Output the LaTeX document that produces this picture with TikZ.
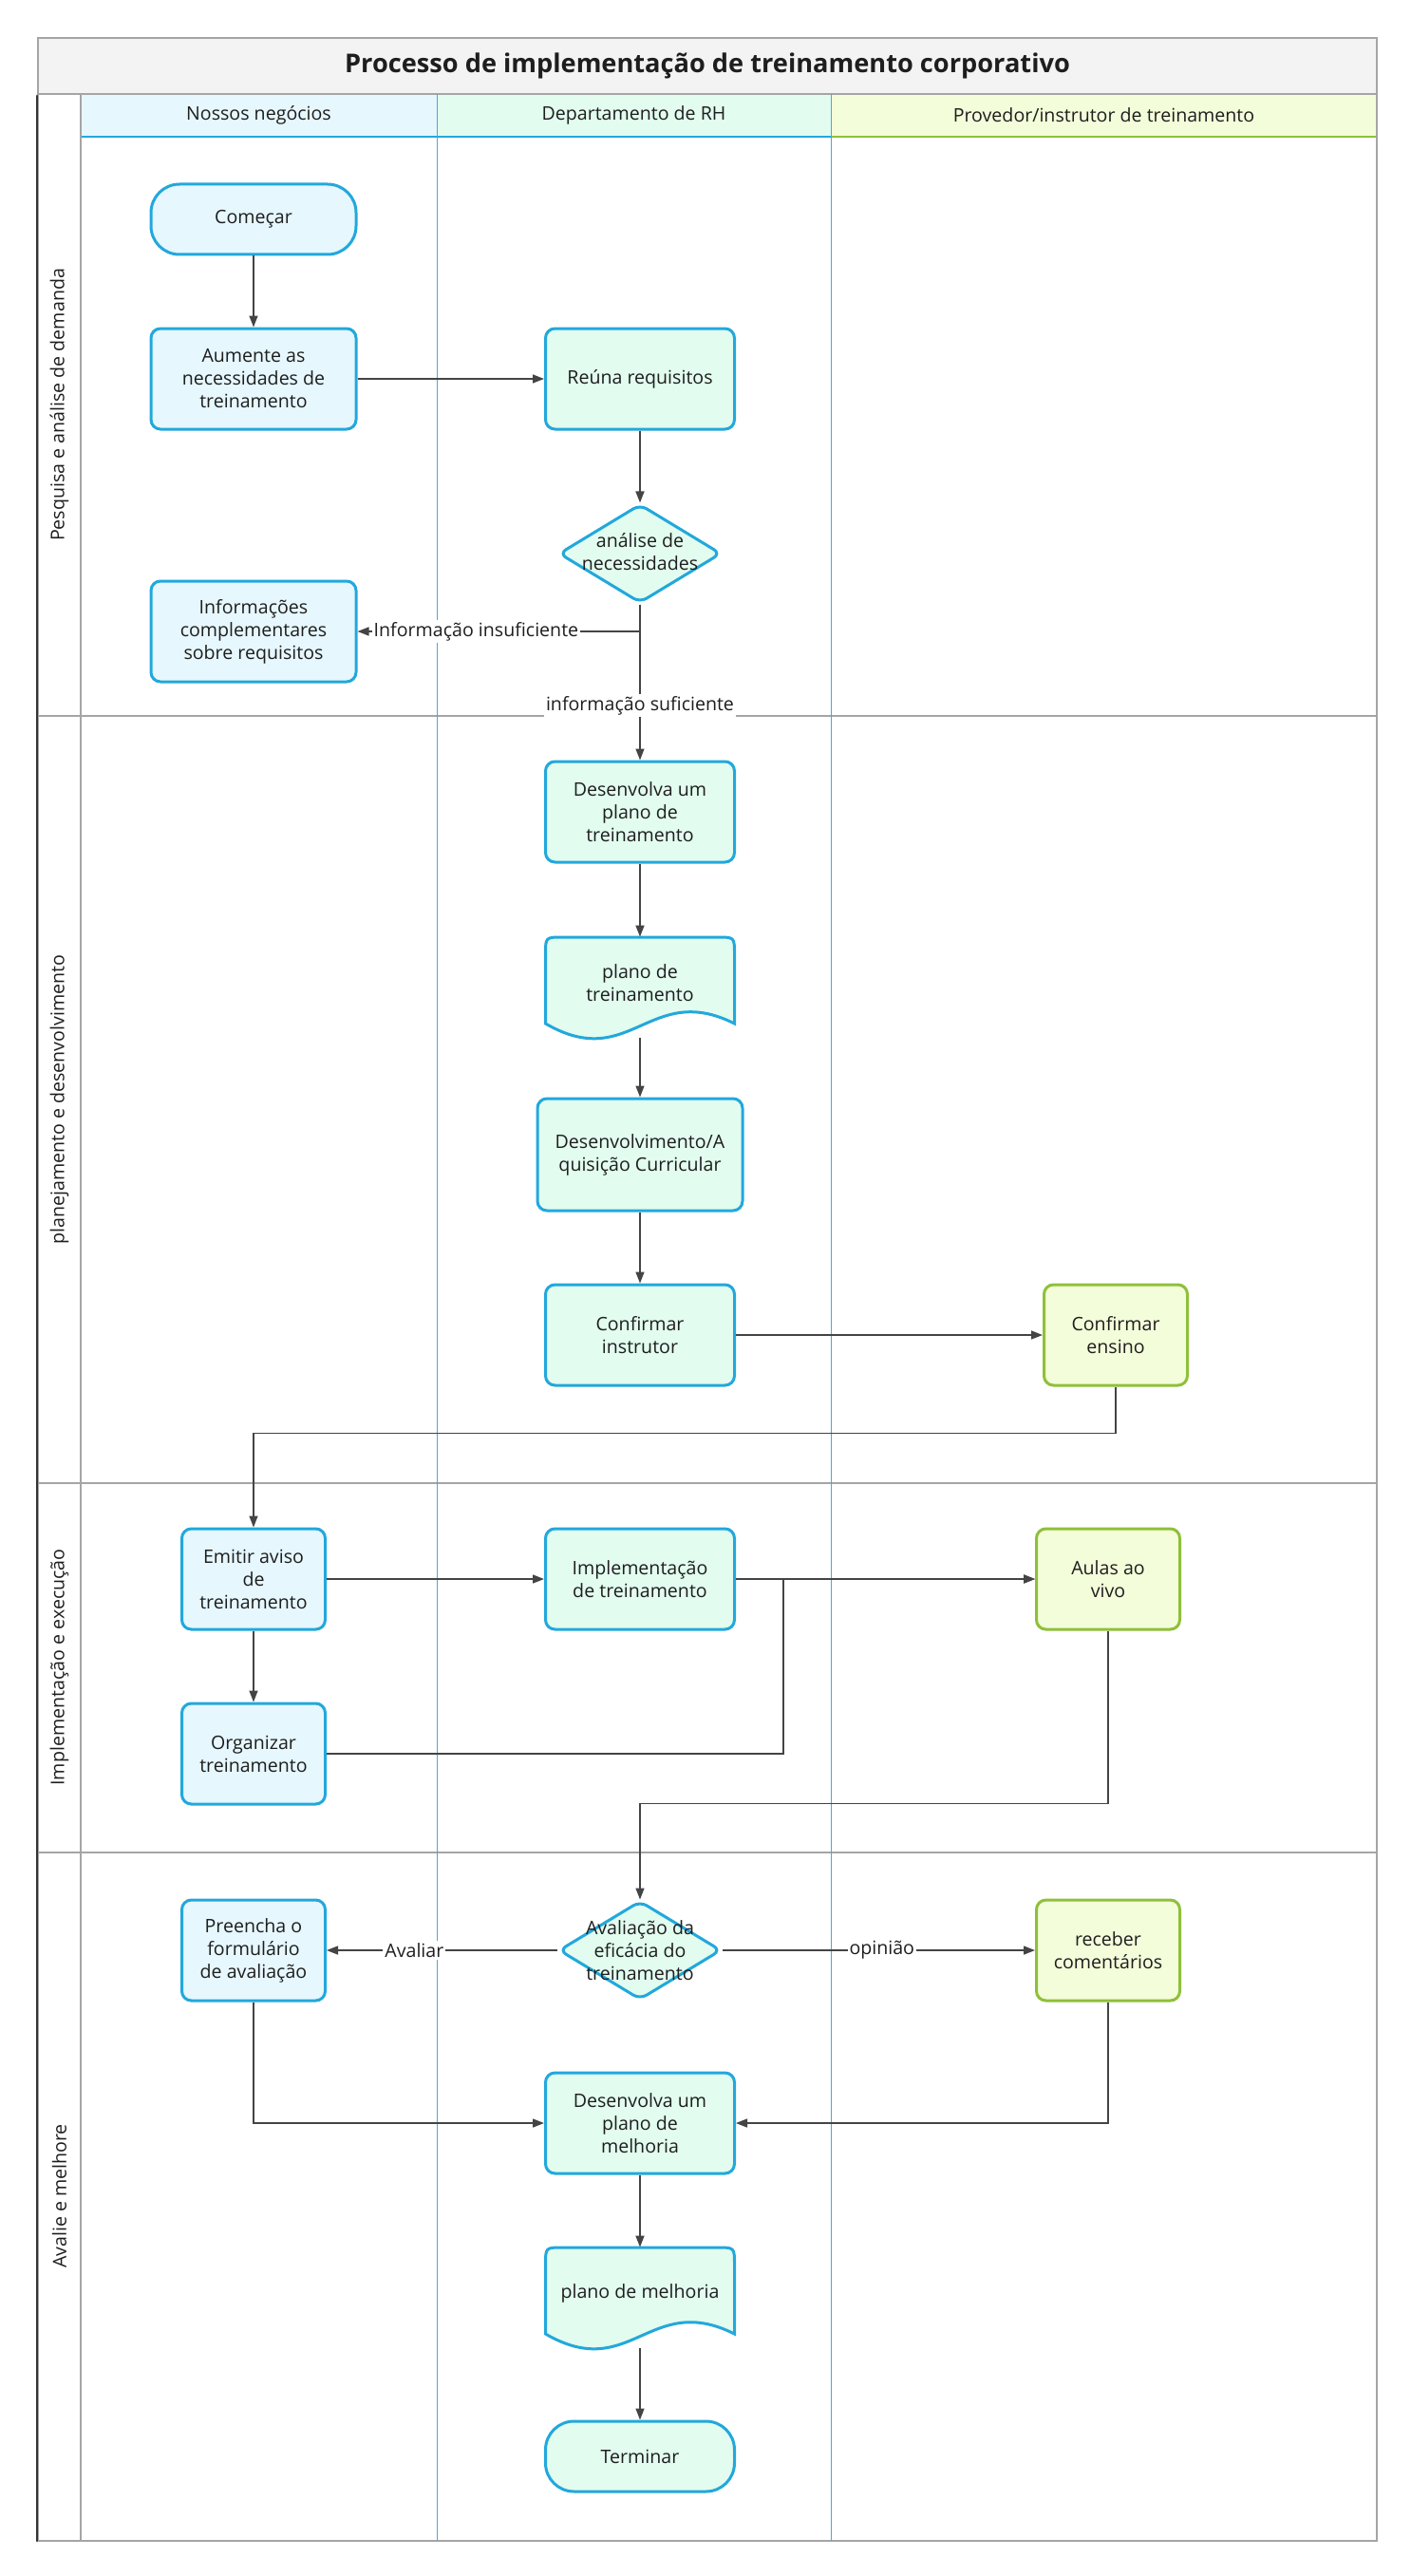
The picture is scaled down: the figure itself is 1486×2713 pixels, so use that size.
\documentclass[tikz,border=0pt]{standalone}
\usepackage{fontspec}
\setmainfont{Open Sans}
\usetikzlibrary{shapes.geometric,arrows.meta,calc}
\definecolor{bstroke}{RGB}{34,168,220}
\definecolor{gstroke}{RGB}{143,192,58}
\definecolor{bfill}{RGB}{230,247,253}
\definecolor{mfill}{RGB}{226,252,239}
\definecolor{gfill}{RGB}{243,253,218}
\definecolor{tfill}{RGB}{243,243,243}
\definecolor{gridc}{RGB}{165,165,165}
\definecolor{lanec}{RGB}{70,172,212}
\definecolor{arrc}{RGB}{68,68,68}
\definecolor{txt}{RGB}{30,30,30}
\definecolor{darkbar}{RGB}{50,52,56}
\newcommand{\docpath}[3]{%
  \draw[line width=1.5pt, draw=bstroke, fill=#3]
    ({#1-99.5},{#2+91}) -- ({#1-99.5},{#2+18}) .. controls ({#1-99.5},{#2}) .. ({#1-81.5},{#2})
    -- ({#1+81.5},{#2}) .. controls ({#1+99.5},{#2}) .. ({#1+99.5},{#2+18})
    -- ({#1+99.5},{#2+91}) .. controls ({#1+10},{#2+91-45}) and ({#1-10},{#2+91+52}) .. ({#1-99.5},{#2+91}) -- cycle;}
\begin{document}
\begin{tikzpicture}[x=0.5pt,y=-0.5pt,
  every node/.style={text=txt},
  nfont/.style={font=\fontsize{9.8}{12}\selectfont},
  box/.style={nfont, draw=bstroke, line width=1.5pt, rounded corners=5pt, align=center, inner sep=2pt, minimum height=53pt},
  wbox/.style={box, minimum width=108pt},
  hbox/.style={box, minimum width=99.5pt},
  nbox/.style={box, minimum width=75.5pt},
  term/.style={box, rounded corners=15pt, minimum height=37pt},
  dia/.style={diamond, draw=bstroke, fill=mfill, line width=1.5pt, rounded corners=4pt, minimum width=85.5pt, minimum height=52pt, inner sep=0pt},
  ghost/.style={inner sep=0pt, minimum width=99.5pt, minimum height=53pt},
  plain/.style={nfont, align=center, inner sep=0pt},
  arr/.style={draw=arrc, line width=0.75pt, -{Triangle[length=6pt,width=4.5pt]}},
  lbl/.style={nfont, fill=white, inner sep=1pt},
  hdr/.style={nfont, inner sep=0pt, minimum height=22.5pt},
  phase/.style={nfont, rotate=90, inner sep=0pt}
]
\useasboundingbox (0,0) rectangle (1486,2713);
\fill[white] (0,0) rectangle (1486,2713);

% title
\node[draw=gridc, line width=0.6pt, fill=tfill, minimum width=705pt, minimum height=29.5pt, inner sep=0pt,
  font=\fontsize{13.6}{16}\selectfont\bfseries] (title) at (745,69.5) {Processo de implementação de treinamento corporativo};

% header cells
\node[hdr, fill=bfill, minimum width=187.5pt] (h1) at (272.5,121.5) {Nossos negócios};
\node[hdr, fill=mfill, minimum width=207.5pt] (h2) at (667.5,121.5) {Departamento de RH};
\node[hdr, fill=gfill, minimum width=287.5pt] (h3) at (1162.5,121.5) {Provedor/instrutor de treinamento};
\draw[bstroke, line width=0.8pt] (85,144) -- (875,144);
\draw[gstroke, line width=0.8pt] (875,144) -- (1450,144);

% grid
\draw[gridc, line width=0.6pt] (40,99) rectangle (1450,2676);
\draw[gridc, line width=0.6pt] (85,99) -- (85,2676);
\draw[gridc, line width=0.6pt] (40,754) -- (1450,754);
\draw[gridc, line width=0.6pt] (40,1562) -- (1450,1562);
\draw[gridc, line width=0.6pt] (40,1951) -- (1450,1951);
\draw[lanec, line width=0.45pt] (460,99) -- (460,2676);
\draw[lanec, line width=0.45pt] (875,99) -- (875,2676);
\draw[darkbar, line width=1.4pt, line cap=round] (39,101) -- (39,2676);

% phase labels
\node[phase] (p1) at (62.5,426.5) {Pesquisa e análise de demanda};
\node[phase] (p2) at (62.5,1158) {planejamento e desenvolvimento};
\node[phase] (p3) at (62.5,1756) {Implementação e execução};
\node[phase] (p4) at (62.5,2313) {Avalie e melhore};

% nodes
\node[term, fill=bfill, minimum width=108pt] (start) at (267,231) {Começar};
\node[wbox, fill=bfill] (aum) at (267,399) {Aumente as\\necessidades de\\treinamento};
\node[hbox, fill=mfill] (reuna) at (674,399) {Reúna requisitos};
\node[dia] (analise) at (674,583) {};
\node[plain] (analiset) at (674,581) {análise de\\necessidades};
\node[wbox, fill=bfill] (info) at (267,665) {Informações\\complementares\\sobre requisitos};
\node[hbox, fill=mfill] (desenv) at (674,855) {Desenvolva um\\plano de\\treinamento};
\docpath{674}{987}{mfill}
\node[ghost] (plano1) at (674,1040) {};
\node[plain] (plano1t) at (674,1035) {plano de\\treinamento};
\node[box, fill=mfill, minimum width=108pt, minimum height=59pt] (curric) at (674,1216) {Desenvolvimento/A\\quisição Curricular};
\node[hbox, fill=mfill] (confinstr) at (674,1406) {Confirmar\\instrutor};
\node[nbox, draw=gstroke, fill=gfill] (confens) at (1175,1406) {Confirmar\\ensino};
\node[nbox, fill=bfill] (emitir) at (267,1663) {Emitir aviso\\de\\treinamento};
\node[hbox, fill=mfill] (impl) at (674,1663) {Implementação\\de treinamento};
\node[nbox, draw=gstroke, fill=gfill] (aulas) at (1167,1663) {Aulas ao\\vivo};
\node[nbox, fill=bfill] (org) at (267,1847) {Organizar\\treinamento};
\node[dia] (aval) at (674,2054) {};
\node[plain] (avalt) at (674,2054) {Avaliação da\\eficácia do\\treinamento};
\node[nbox, fill=bfill] (preen) at (267,2054) {Preencha o\\formulário\\de avaliação};
\node[nbox, draw=gstroke, fill=gfill] (receber) at (1167,2054) {receber\\comentários};
\node[hbox, fill=mfill] (desmel) at (674,2236) {Desenvolva um\\plano de\\melhoria};
\docpath{674}{2367}{mfill}
\node[ghost] (plano2) at (674,2420) {};
\node[plain] (plano2t) at (674,2415) {plano de melhoria};
\node[term, fill=mfill, minimum width=99.5pt] (term) at (674,2587) {Terminar};

% connectors
\draw[arr] (start) -- (aum);
\draw[arr] (aum) -- (reuna);
\draw[arr] (reuna) -- (analise);
\draw[arr] (analise.south) |- node[lbl, pos=0.79] {Informação insuficiente} (info.east);
\draw[arr] (analise.south) -- node[lbl, pos=0.65] {informação suficiente} (desenv.north);
\draw[arr] (desenv) -- (plano1.north);
\draw[arr] (plano1.south) -- (curric.north);
\draw[arr] (curric) -- (confinstr);
\draw[arr] (confinstr) -- (confens);
\draw[arr] (confens.south) -- ++(0,49) -| (emitir.north);
\draw[arr] (emitir) -- (impl);
\draw[arr] (emitir) -- (org);
\draw[arr] (impl) -- (aulas);
\coordinate (merge) at (825,1663);
\draw[arr] (org.east) -| (merge) -- (aulas.west);
\draw[arr] (aulas.south) -- ++(0,182) -| (aval.north);
\draw[arr] (aval) -- node[lbl, pos=0.62] {Avaliar} (preen);
\draw[arr] (aval) -- node[lbl, pos=0.51] {opinião} (receber);
\draw[arr] (preen.south) |- (desmel.west);
\draw[arr] (receber.south) |- (desmel.east);
\draw[arr] (desmel) -- (plano2.north);
\draw[arr] (plano2.south) -- (term.north);
\end{tikzpicture}
\end{document}
